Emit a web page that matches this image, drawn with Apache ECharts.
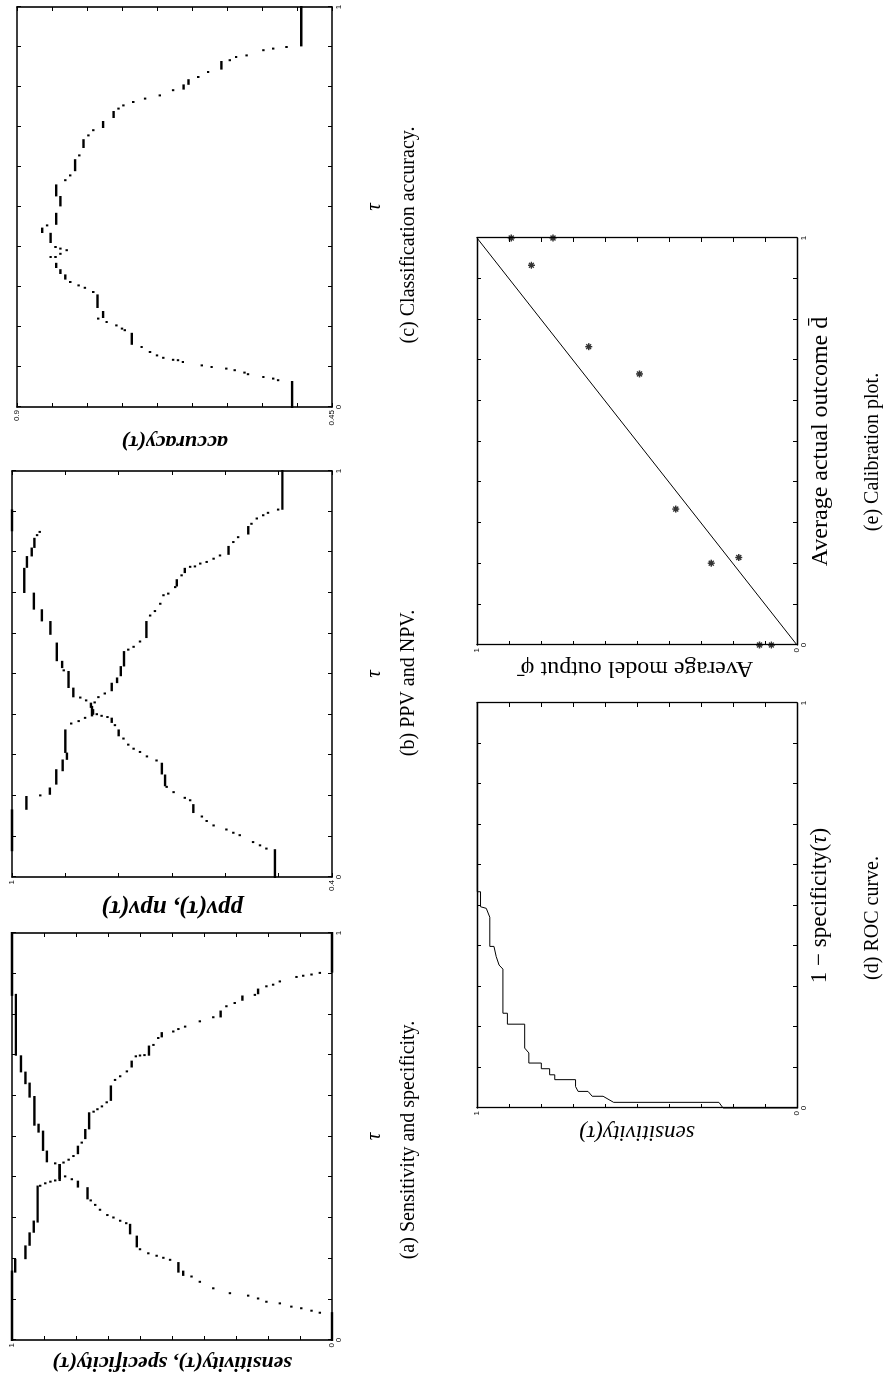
<!DOCTYPE html>
<html>
<head>
<meta charset="utf-8">
<script src="https://cdn.jsdelivr.net/npm/echarts@6/dist/echarts.min.js"></script>
<style>
html,body{margin:0;padding:0;background:#fff;overflow:hidden;width:883px;height:1383px;}
#wrap{position:absolute;left:0;top:0;width:1383px;height:883px;transform-origin:0 0;transform:translate(0px,1383px) rotate(-90deg);background:#fff;}
#chart{width:1383px;height:883px;}
</style>
</head>
<body>
<div id="wrap"><div id="chart"></div></div>
<script>
// ---------- data ----------
// segments: [tauStart, tauEnd, value] or single dots [tau, value]
const sensitivity = [
 [0,0.168,1.0],[0.168,0.197,0.99],[0.201,0.230,0.958],[0.234,0.262,0.945],[0.266,0.291,0.932],
 [0.291,0.377,0.92],[0.379,0.912],[0.385,0.896],[0.389,0.880],[0.392,0.865],[0.393,0.43,0.851],
 [0.436,0.839],[0.443,0.823],[0.452,0.808],[0.459,0.475,0.794],[0.485,0.782],[0.496,0.516,0.771],
 [0.520,0.557,0.759],[0.561,0.745],[0.567,0.733],[0.574,0.719],[0.584,0.704],[0.590,0.623,0.691],
 [0.639,0.678],[0.648,0.662],[0.660,0.641],[0.672,0.684,0.626],[0.697,0.613],[0.699,0.600],[0.700,0.586],
 [0.701,0.721,0.572],[0.725,0.558],[0.742,0.543],[0.746,0.754,0.532],[0.758,0.496],[0.764,0.480],
 [0.770,0.459],[0.783,0.413],[0.793,0.371],[0.795,0.807,0.348],[0.820,0.330],[0.828,0.304],
 [0.836,0.844,0.280],[0.848,0.241],[0.852,0.861,0.231],[0.869,0.205],[0.873,0.184],[0.881,0.163],
 [0.892,0.111],[0.895,0.090],[0.898,0.064],[0.902,0.038],[0.905,1,0]
];
const specificity = [
 [0,0.066,0],[0.067,0.038],[0.072,0.064],[0.078,0.096],[0.082,0.127],[0.090,0.163],[0.094,0.205],
 [0.102,0.231],[0.109,0.262],[0.115,0.319],[0.127,0.371],[0.143,0.413],[0.156,0.439],[0.160,0.168,0.465],
 [0.168,0.189,0.480],[0.197,0.506],[0.202,0.527],[0.207,0.548],[0.213,0.574],[0.223,0.600],
 [0.230,0.254,0.610],[0.262,0.283,0.631],[0.287,0.643],[0.293,0.662],[0.301,0.683],[0.307,0.702],
 [0.320,0.725],[0.332,0.740],[0.343,0.754],[0.348,0.373,0.764],[0.377,0.389,0.794],[0.395,0.813],
 [0.402,0.834],[0.398,0.430,0.851],[0.434,0.865],[0.439,0.463,0.891],[0.467,0.512,0.903],
 [0.512,0.529,0.917],[0.529,0.597,0.930],[0.598,0.630,0.945],[0.631,0.657,0.958],[0.660,0.697,0.972],
 [0.701,0.848,0.988],[0.848,1,1.0]
];
const ppv = [
 [0,0.066,0.507],[0.070,0.523],[0.078,0.535],[0.086,0.548],[0.103,0.573],[0.109,0.585],[0.117,0.598],
 [0.127,0.622],[0.138,0.635],[0.149,0.644],[0.160,0.177,0.660],[0.189,0.666],[0.195,0.676],[0.209,0.697],
 [0.222,0.710],[0.226,0.250,0.713],[0.255,0.279,0.719],[0.287,0.729],[0.297,0.747],[0.308,0.760],
 [0.316,0.772],[0.326,0.782],[0.341,0.791],[0.349,0.361,0.800],[0.374,0.807],[0.382,0.390,0.813],
 [0.394,0.821],[0.397,0.832],[0.401,0.841],[0.402,0.411,0.848],[0.419,0.427,0.852],[0.435,0.861],
 [0.442,0.872],[0.445,0.464,0.885],[0.468,0.505,0.894],[0.509,0.903],[0.517,0.530,0.906],
 [0.534,0.575,0.916],[0.599,0.628,0.928],[0.632,0.657,0.944],[0.661,0.698,0.959],[0.702,0.759,0.977],
 [0.764,0.788,0.972],[0.792,0.809,0.963],[0.813,0.833,0.958],[0.842,0.953],[0.850,0.948],[0.854,0.903,1.0]
];
const npv = [
 [0.066,0.164,1.0],[0.168,0.197,0.973],[0.201,0.947],[0.205,0.218,0.929],[0.230,0.263,0.917],
 [0.263,0.287,0.905],[0.291,0.304,0.897],[0.308,0.361,0.900],[0.378,0.889],[0.384,0.875],[0.392,0.863],
 [0.398,0.419,0.850],[0.430,0.845],[0.443,0.838],[0.452,0.826],[0.460,0.476,0.813],[0.480,0.489,0.803],
 [0.497,0.517,0.796],[0.521,0.554,0.790],[0.560,0.782],[0.567,0.772],[0.580,0.760],[0.591,0.628,0.748],
 [0.644,0.741],[0.655,0.732],[0.673,0.722],[0.694,0.716],[0.698,0.707],[0.714,0.694],[0.718,0.731,0.691],
 [0.743,0.682],[0.751,0.759,0.676],[0.764,0.666],[0.765,0.657],[0.772,0.647],[0.776,0.635],[0.784,0.622],
 [0.792,0.610],[0.796,0.813,0.594],[0.825,0.585],[0.837,0.576],[0.846,0.862,0.557],[0.870,0.551],
 [0.883,0.541],[0.891,0.529],[0.897,0.520],[0.905,0.501],[0.907,1,0.493]
];
const accuracy = [
 [0,0.0625,0.507],[0.067,0.527],[0.071,0.534],[0.075,0.548],[0.082,0.570],[0.086,0.575],[0.092,0.589],
 [0.096,0.601],[0.100,0.622],[0.104,0.636],[0.1125,0.663],[0.117,0.670],[0.118,0.677],[0.123,0.691],
 [0.129,0.700],[0.1375,0.710],[0.15,0.722],[0.158,0.183,0.736],[0.192,0.746],[0.196,0.750],[0.204,0.758],
 [0.2125,0.772],[0.221,0.784],[0.225,0.2375,0.777],[0.25,0.279,0.785],[0.2875,0.791],[0.298,0.803],
 [0.304,0.812],[0.3125,0.824],[0.321,0.329,0.831],[0.335,0.342,0.838],[0.35,0.358,0.844],[0.375,0.845],
 [0.375,0.852],[0.383,0.838],[0.392,0.829],[0.396,0.838],[0.40,0.845],[0.4125,0.433,0.852],
 [0.4375,0.446,0.864],[0.454,0.857],[0.458,0.483,0.844],[0.504,0.525,0.838],[0.529,0.554,0.844],
 [0.567,0.831],[0.579,0.824],[0.592,0.617,0.817],[0.629,0.811],[0.65,0.667,0.805],[0.679,0.798],
 [0.692,0.791],[0.70,0.7125,0.777],[0.725,0.7375,0.762],[0.746,0.755],[0.754,0.748],[0.7625,0.734],
 [0.771,0.717],[0.779,0.696],[0.792,0.677],[0.796,0.804,0.662],[0.808,0.817,0.655],[0.825,0.641],
 [0.8375,0.627],[0.846,0.8625,0.608],[0.867,0.596],[0.875,0.587],[0.879,0.572],[0.892,0.548],
 [0.896,0.534],[0.90,0.515],[0.904,1,0.494]
];
// ROC curve vertices [1 - specificity, sensitivity]
const rocFpr = [0,0,0.014,0.014,0.029,0.029,0.041,0.041,0.053,0.070,0.070,0.082,0.082,0.097,0.097,0.111,0.111,0.136,0.148,0.207,0.207,0.234,0.234,0.343,0.353,0.374,0.399,0.399,0.471,0.493,0.497,0.534,0.534,1];
const rocTpr = [0,0.231,0.244,0.573,0.606,0.640,0.653,0.684,0.692,0.692,0.757,0.757,0.773,0.773,0.799,0.799,0.838,0.838,0.851,0.851,0.905,0.905,0.919,0.919,0.931,0.940,0.947,0.960,0.960,0.971,0.989,0.989,1.0,1.0];
// calibration points
const calActual = [1.0,1.0,0.933,0.733,0.666,0.334,0.201,0.215,0,0];
const calModel  = [0.893,0.7625,0.830,0.651,0.492,0.379,0.268,0.182,0.117,0.080];
const diagonal = [[0,0],[1,1]];

// axis ranges / tick labels
const axesSpec = [
 {x:[0,1,0.1], y:[0,1,0.1]},
 {x:[0,1,0.1], y:[0.4,1,0.1]},
 {x:[0,1,0.1], y:[0.45,0.9,0.05]},
 {x:[0,1,0.1], y:[0,1,0.1]},
 {x:[0,1,0.1], y:[0,1,0.1]}
];
const grids = [
 {left:43, top:12, width:407, height:320},
 {left:506, top:12, width:406, height:320},
 {left:976, top:17, width:400, height:315},
 {left:275, top:477, width:405, height:320},
 {left:738, top:477, width:407, height:320}
];
const xNames = ['τ','τ','τ','1 − specificity({t|τ})','Average actual outcome d̄'];
const yNames = ['sensitivity(τ), specificity(τ)','ppv(τ), npv(τ)','accuracy(τ)','sensitivity(τ)','Average model output φ̄'];
const captions = ['(a) Sensitivity and specificity.','(b) PPV and NPV.','(c) Classification accuracy.','(d) ROC curve.','(e) Calibration plot.'];

// ---------- build ----------
const SERIF = 'Liberation Serif';
function endLabel(min,max){
  return function(v){
    if (Math.abs(v-min)<1e-9 || Math.abs(v-max)<1e-9){
      return String(+v.toFixed(2));
    }
    return '';
  };
}
const lw = [1.6,1.6,1.6,1.3,1.3];
const xAxes=[], yAxes=[];
const xGaps=[32,32,32,9,9];
const yGaps=[9,12,24,13,11];
const yNameStyle=[
 {fontStyle:'italic',fontWeight:'bold',fontSize:22},
 {fontStyle:'italic',fontWeight:'bold',fontSize:25},
 {fontStyle:'italic',fontWeight:'bold',fontSize:22},
 {fontStyle:'italic',fontWeight:'normal',fontSize:23},
 {fontStyle:'normal',fontWeight:'normal',fontSize:24}
];
const xNameStyle=[
 {fontStyle:'italic',fontSize:21},{fontStyle:'italic',fontSize:21},{fontStyle:'italic',fontSize:21},
 {fontStyle:'normal',fontSize:23},{fontStyle:'normal',fontSize:24}
];
axesSpec.forEach((s,i)=>{
  const common = (r)=>({type:'value',gridIndex:i,min:r[0],max:r[1],interval:r[2],
    splitLine:{show:false},
    axisLine:{show:true,onZero:false,lineStyle:{color:'#000',width:lw[i]}},
    axisTick:{show:true,inside:true,length:4,lineStyle:{color:'#000',width:1}}});
  xAxes.push(Object.assign(common(s.x),{position:'bottom',
    axisLabel:{show:true,margin:3,fontSize:8,fontFamily:'Liberation Sans',color:'#000',formatter:endLabel(s.x[0],s.x[1]),showMinLabel:true,showMaxLabel:true},
    name:xNames[i],nameLocation:'middle',nameGap:xGaps[i],
    nameTextStyle:Object.assign({fontFamily:SERIF,color:'#000',rich:{t:{fontStyle:'italic',fontFamily:SERIF,fontSize:23}}},xNameStyle[i])}));
  xAxes.push(Object.assign(common(s.x),{position:'top',axisLabel:{show:false}}));
  yAxes.push(Object.assign(common(s.y),{position:'left',
    axisLabel:{show:true,margin:3,fontSize:8,fontFamily:'Liberation Sans',color:'#000',formatter:endLabel(s.y[0],s.y[1]),showMinLabel:true,showMaxLabel:true},
    name:yNames[i],nameLocation:'middle',nameGap:yGaps[i],
    nameTextStyle:Object.assign({fontFamily:SERIF,color:'#000'},yNameStyle[i])}));
  yAxes.push(Object.assign(common(s.y),{position:'right',axisLabel:{show:false}}));
});

function norm(arr){ return arr.map(d => d.length===2 ? [d[0],d[0],d[1]] : d); }
function renderSeg(params, api){
  const a = api.coord([api.value(0), api.value(2)]);
  const b = api.coord([api.value(1), api.value(2)]);
  return {type:'rect', shape:{x:a[0]-1, y:a[1]-1.2, width:b[0]-a[0]+2, height:2.4}, style:{fill:'#000'}};
}
function segSeries(name, data, g){
  return {type:'custom', name, xAxisIndex:2*g, yAxisIndex:2*g, renderItem:renderSeg,
    encode:{x:[0,1], y:2}, data:norm(data), silent:true, animation:false};
}
const series = [
  segSeries('sensitivity', sensitivity, 0),
  segSeries('specificity', specificity, 0),
  segSeries('ppv', ppv, 1),
  segSeries('npv', npv, 1),
  segSeries('accuracy', accuracy, 2),
  {type:'line', name:'ROC', xAxisIndex:6, yAxisIndex:6, data:rocFpr.map((f,k)=>[f,rocTpr[k]]),
    showSymbol:false, symbol:'none', lineStyle:{color:'#000',width:1}, animation:false, silent:true},
  {type:'line', name:'ideal', xAxisIndex:8, yAxisIndex:8, data:diagonal,
    symbol:'none', lineStyle:{color:'#000',width:1}, animation:false, silent:true},
  {type:'scatter', name:'calibration', xAxisIndex:8, yAxisIndex:8, data:calActual.map((a,k)=>[a,calModel[k]]),
    symbol:'path://M4 0L4 8M0 4L8 4M1.2 1.2L6.8 6.8M1.2 6.8L6.8 1.2', symbolSize:7,
    itemStyle:{color:'none',borderColor:'#000',borderWidth:1.4}, animation:false, silent:true}
];
const capPos = [[243,409],[700,409],[1148,409],[465,873],[931,873]];
const graphic = captions.map((c,i)=>({type:'text', x:capPos[i][0], y:capPos[i][1],
  style:{text:c, fontSize:20, fontFamily:SERIF, fill:'#000', align:'center', verticalAlign:'middle'}, silent:true}));

const chart = echarts.init(document.getElementById('chart'), null, {width:1383, height:883, renderer:'canvas'});
chart.setOption({
  animation:false,
  backgroundColor:'#fff',
  grid: grids,
  xAxis: xAxes,
  yAxis: yAxes,
  series: series,
  graphic: graphic
});
</script>
</body>
</html>
